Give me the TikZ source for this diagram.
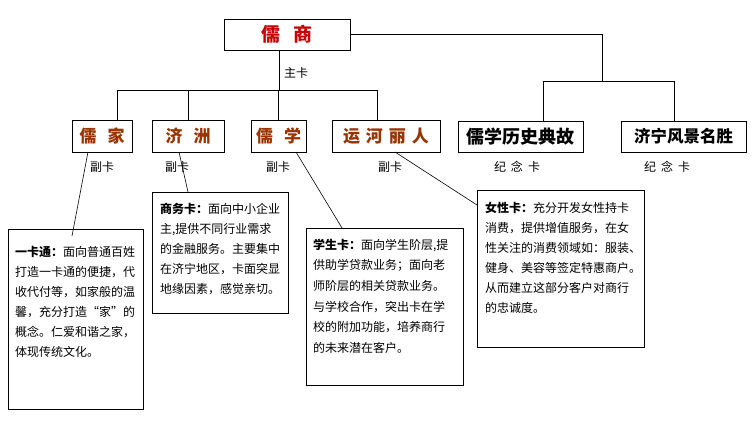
\documentclass[tikz,border=0pt]{standalone}
\usepackage{fontspec}
\setmainfont{Noto Sans CJK SC}
\definecolor{headred}{RGB}{204,0,0}
\definecolor{headbrown}{RGB}{153,51,0}
\begin{document}
\begin{tikzpicture}[x=1pt,y=-1pt,
  every node/.style={inner sep=0pt, outer sep=0pt},
  wire/.style={draw=black, line width=0.9pt},
  hbox/.style={draw=black, line width=0.9pt, minimum height=31pt},
  tbox/.style={draw=black, line width=0.9pt},
  bodytext/.style={anchor=north west, align=left, font=\fontsize{12}{20}\selectfont},
  small/.style={font=\fontsize{12}{14}\selectfont},
  brownhead/.style={font=\fontsize{17}{20}\selectfont\bfseries, text=headbrown},
  blackhead/.style={font=\fontsize{18}{20}\selectfont\bfseries, text=black}]
\useasboundingbox[fill=white] (0,0) rectangle (752,436);

% top box
\node[hbox, minimum width=126pt, text=headred, font=\fontsize{19}{20}\selectfont\bfseries] (rushang) at (287,34.5) {儒\hspace{13pt}商\hspace{18pt}};

% second row
\node[hbox, minimum width=60pt, minimum height=32pt, brownhead] (rujia) at (102,136) {儒\hspace{11pt}家};
\node[hbox, minimum width=72pt, minimum height=32pt, brownhead] (jizhou) at (188,136) {济\hspace{11pt}洲};
\node[hbox, minimum width=55pt, minimum height=32pt, brownhead] (ruxue) at (278.5,136) {儒\hspace{11pt}学};
\node[hbox, minimum width=108pt, minimum height=32pt, brownhead] (yunhe) at (386,136) {运\hspace{6pt}河\hspace{6pt}丽\hspace{6pt}人};
\node[hbox, minimum width=125pt, blackhead] (lishi) at (520.5,136.5) {儒学历史典故};
\node[hbox, minimum width=125pt, blackhead, font=\fontsize{16.5}{20}\selectfont\bfseries] (fengjing) at (683.5,136.5) {济宁风景名胜};

% labels
\node[small] (lzhu) at (296,73) {主卡};
\node[small] (lf1) at (102,167) {副卡};
\node[small] (lf2) at (177,167) {副卡};
\node[small] (lf3) at (278,167) {副卡};
\node[small] (lf4) at (390,167) {副卡};
\node[small] (lj1) at (517,167) {纪\hspace{5pt}念\hspace{5pt}卡};
\node[small] (lj2) at (667,167) {纪\hspace{5pt}念\hspace{5pt}卡};

% text boxes
\node[tbox, minimum width=135pt, minimum height=180pt] (yikatong) at (75.5,319) {};
\node[bodytext] (tyika) at (15,246) {\textbf{一卡通：}面向普通百姓\\打造一卡通的便捷，代\\收代付等，如家般的温\\馨，充分打造“家”的\\概念。仁爱和谐之家，\\体现传统文化。};

\node[tbox, minimum width=136pt, minimum height=121pt] (shangwu) at (220,252.5) {};
\node[bodytext] (tshang) at (160,203) {\textbf{商务卡：}面向中小企业\\主,提供不同行业需求\\的金融服务。主要集中\\在济宁地区，卡面突显\\地缘因素，感觉亲切。};

\node[tbox, minimum width=157pt, minimum height=157pt] (xuesheng) at (384.5,306.5) {};
\node[bodytext, font=\fontsize{12}{20.6}\selectfont] (txue) at (313,239) {\textbf{学生卡：}面向学生阶层,提\\供助学贷款业务；面向老\\师阶层的相关贷款业务。\\与学校合作，突出卡在学\\校的附加功能，培养商行\\的未来潜在客户。};

\node[tbox, minimum width=167pt, minimum height=157pt] (nvxing) at (560.5,268.5) {};
\node[bodytext] (tnv) at (485,202) {\textbf{女性卡：}充分开发女性持卡\\消费，提供增值服务，在女\\性关注的消费领域如：服装、\\健身、美容等签定特惠商户。\\从而建立这部分客户对商行\\的忠诚度。};

% tree connectors
\coordinate (busL) at (117,90);
\coordinate (busR) at (377,90);
\draw[wire] (busL) -- (busR);
\draw[wire] ([xshift=-8pt]rushang.south) -- ([xshift=-8pt]rushang.south |- busL);
\draw[wire] ([xshift=15pt]rujia.north) -- ([xshift=15pt]rujia.north |- busL);
\draw[wire] (jizhou.north) -- (jizhou.north |- busL);
\draw[wire] (ruxue.north) -- (ruxue.north |- busL);
\draw[wire] ([xshift=-9pt]yunhe.north) -- ([xshift=-9pt]yunhe.north |- busL);

\coordinate (drop) at (602,81);
\coordinate (bus2L) at (543,81);
\coordinate (bus2R) at (674,81);
\draw[wire] (rushang.east) -| (drop);
\draw[wire] (bus2L) -- (bus2R);
\draw[wire] (bus2L) -- (lishi.north -| bus2L);
\draw[wire] (bus2R) -- (fengjing.north -| bus2R);

% diagonal connectors
\coordinate (e1) at (72,236);
\coordinate (e2) at (188,192);
\coordinate (e3) at (342,228);
\coordinate (e4) at (477,205);
\draw[line width=0.6pt] ([xshift=16pt]rujia.south west) -- (e1);
\draw[line width=0.6pt] ([xshift=27pt]jizhou.south west) -- (e2);
\draw[line width=0.6pt] ([xshift=45pt]ruxue.south west) -- (e3);
\draw[line width=0.6pt] ([xshift=63pt]yunhe.south west) -- (e4);
\end{tikzpicture}
\end{document}
